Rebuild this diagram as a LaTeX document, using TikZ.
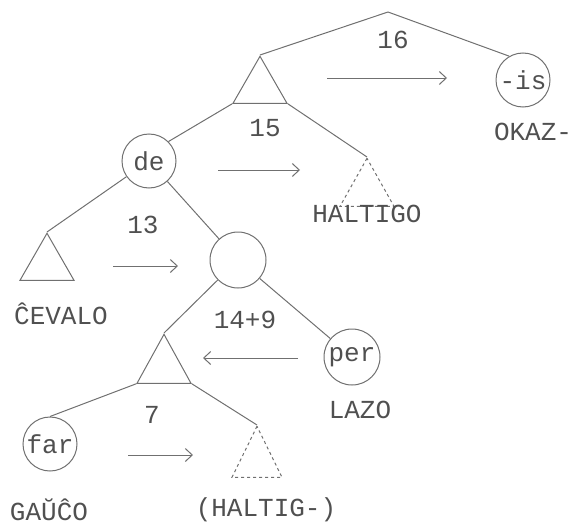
\documentclass[tikz,border=0pt]{standalone}
\usepackage{fontspec}
\setmonofont{Liberation Mono}
\usetikzlibrary{arrows.meta,shapes.geometric}
\definecolor{tygray}{HTML}{707070}
\definecolor{tyink}{HTML}{505050}

\begin{document}
\begin{tikzpicture}[
    x=1pt, y=-1pt,
    >={Straight Barb[length=7pt,width=13pt]},
    word/.style={font=\ttfamily\fontsize{26}{30}\selectfont, text=tyink, inner sep=0pt},
    morph/.style={circle, draw=tygray, line width=1pt, minimum size=54pt, inner sep=0pt, font=\ttfamily\fontsize{26}{30}\selectfont, text=tyink},
    tree/.style={isosceles triangle, shape border rotate=90, isosceles triangle stretches, draw=tygray, line width=1pt, minimum width=54pt, minimum height=47pt, inner sep=0pt, anchor=apex},
    hole/.style={tree, dashed},
    branch/.style={draw=tygray, line width=1pt},
    arrow/.style={->, tygray, line width=1pt},
]
\useasboundingbox (0,0) rectangle (578,527);

% Morphemes
\node[morph] (cis) at (523,80) {-is};
\node[morph] (cde) at (149,161) {de};
\node[morph, minimum size=56pt] (cmid) at (238,260) {};
\node[morph, minimum size=56pt] (cper) at (352,357) {per};
\node[morph] (cfar) at (50,444) {far};

% Subtrees
\coordinate (root) at (388,12);
\node[tree] (tfrazo) at (260,55) {};
\node[hole, minimum height=48pt] (thaltigo) at (367,157) {};
\node[tree] (tcevalo) at (47,232) {};
\node[tree, minimum height=49pt] (tnoun) at (164,333) {};
\node[hole, minimum width=50pt, minimum height=51pt] (thaltig) at (257,425) {};

% Branches
\draw[branch] (root) -- (tfrazo.apex);
\draw[branch] (root) -- (cis.120);
\draw[branch] (tfrazo.left corner) -- (cde.north east);
\draw[branch] (tfrazo.right corner) -- (thaltigo.apex);
\draw[branch] (cde) -- (tcevalo.apex);
\draw[branch] (cde) -- (cmid);
\draw[branch] (cmid) -- (tnoun.apex);
\draw[branch] (cmid) -- (cper);
\draw[branch] (tnoun.left corner) -- (cfar.north);
\draw[branch] (tnoun.right corner) -- (thaltig.apex);

% Words
\node[word] (w16) at (393,40) {16};
\node[word] (w15) at (265,128) {15};
\node[word] (w13) at (143,225) {13};
\node[word] (w149) at (245,320) {14+9};
\node[word] (w7) at (152,415) {7};
\node[word] (okaz) at (533,132) {OKAZ-};
\node[word] (haltigo) at (367,214) {HALTIGO};
\node[word] (cevalo) at (61,314) {ĈEVALO};
\node[word] (lazo) at (360,410) {LAZO};
\node[word] (gauco) at (49,510) {GAŬĈO};
\node[word] (haltig) at (266,510) {(HALTIG-)};

% Arrows
\coordinate (a16s) at (327,78);  \coordinate (a16e) at (447,78);
\coordinate (a15s) at (218,170); \coordinate (a15e) at (300,170);
\coordinate (a13s) at (113,266); \coordinate (a13e) at (178,266);
\coordinate (a149s) at (298,358); \coordinate (a149e) at (203,358);
\coordinate (a7s) at (128,455);  \coordinate (a7e) at (193,455);
\draw[arrow] (a16s) -- (a16e);
\draw[arrow] (a15s) -- (a15e);
\draw[arrow] (a13s) -- (a13e);
\draw[arrow] (a149s) -- (a149e);
\draw[arrow] (a7s) -- (a7e);
\end{tikzpicture}
\end{document}
